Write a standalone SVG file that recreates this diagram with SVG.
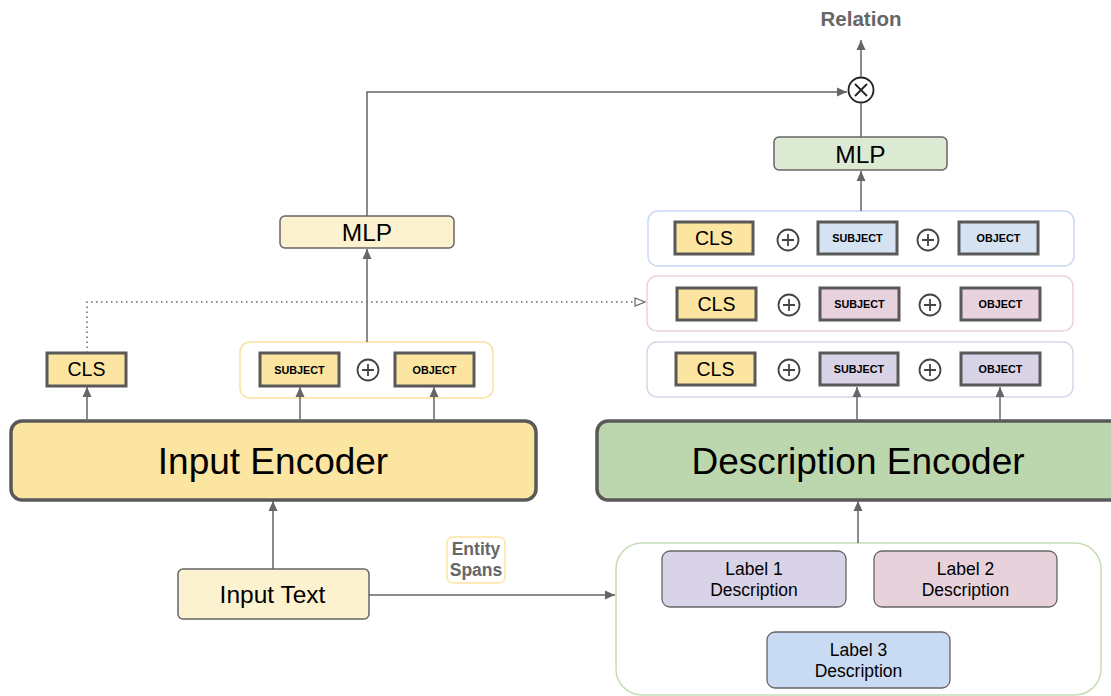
<svg xmlns="http://www.w3.org/2000/svg" width="1111" height="696" viewBox="0 0 1111 696">
<style>
text{font-family:"Liberation Sans",Arial,sans-serif;text-anchor:middle;fill:#000}
.tok{stroke:#595959;stroke-width:3}
.cls{fill:#fbe5a0}
.tt{font-size:19.5px}
.st{font-size:10.8px;font-weight:bold}
.enc{stroke:#595959;stroke-width:3.5}
.mlp{stroke:#666;stroke-width:1.5}
.plus{fill:#fff;stroke:#444;stroke-width:1.8}
.ln{stroke:#666;stroke-width:1.5;fill:none}
.lbl{stroke:#666;stroke-width:1.3}
.lt{font-size:17.5px}
</style>
<defs>
<marker id="ah" viewBox="0 0 10 10" refX="10" refY="5" markerWidth="10" markerHeight="10" markerUnits="userSpaceOnUse" orient="auto"><path d="M0,0.5 L10,5 L0,9.5 z" fill="#666"/></marker>
<marker id="oh" viewBox="0 0 12 10" refX="11" refY="5" markerWidth="12" markerHeight="10" markerUnits="userSpaceOnUse" orient="auto"><path d="M1,1 L11,5 L1,9 z" fill="#fff" stroke="#666" stroke-width="1.2"/></marker>
<g id="plusSym"><circle r="10.5" class="plus"/><path d="M-6,0 H6 M0,-6 V6" stroke="#444" stroke-width="1.8"/></g>
</defs>

<g id="relation"><text x="861" y="26" style="font-size:20.5px;font-weight:bold;fill:#666">Relation</text></g>
<g id="otimes"><circle cx="861" cy="90" r="12.5" fill="#fff" stroke="#222" stroke-width="1.8"/><path d="M855,84 L867,96 M867,84 L855,96" stroke="#222" stroke-width="1.8"/></g>

<g id="mlp-right"><rect x="774" y="137" width="173" height="33" rx="5" fill="#dcead4" class="mlp"/><text x="860.5" y="162.5" style="font-size:24.5px">MLP</text></g>
<g id="mlp-left"><rect x="280" y="216" width="174" height="32" rx="5" fill="#fdf2d0" class="mlp"/><text x="367" y="241" style="font-size:24.5px">MLP</text></g>

<g id="row1">
<rect x="648" y="211" width="426" height="55" rx="10" fill="#fff" stroke="#c9d8f5" stroke-width="1.5"/>
<rect x="675" y="222" width="78" height="32" class="tok cls"/><text x="714" y="245" class="tt">CLS</text>
<use href="#plusSym" x="788" y="240"/>
<rect x="818" y="222" width="79" height="32" class="tok" fill="#d5e2f1"/><text x="857.5" y="242" class="st">SUBJECT</text>
<use href="#plusSym" x="928" y="240"/>
<rect x="959" y="222" width="79" height="32" class="tok" fill="#d5e2f1"/><text x="998.5" y="242" class="st">OBJECT</text>
</g>
<g id="row2">
<rect x="647" y="276" width="426" height="55" rx="10" fill="#fff" stroke="#ecd3d8" stroke-width="1.5"/>
<rect x="677" y="288" width="79" height="32" class="tok cls"/><text x="716.5" y="311" class="tt">CLS</text>
<use href="#plusSym" x="789" y="305"/>
<rect x="820" y="288" width="79" height="32" class="tok" fill="#e7d2de"/><text x="859.5" y="308" class="st">SUBJECT</text>
<use href="#plusSym" x="930" y="305"/>
<rect x="961" y="288" width="79" height="32" class="tok" fill="#e7d2de"/><text x="1000.5" y="308" class="st">OBJECT</text>
</g>
<g id="row3">
<rect x="647" y="342" width="426" height="55" rx="10" fill="#fff" stroke="#d9d5ea" stroke-width="1.5"/>
<rect x="676" y="353" width="79" height="32" class="tok cls"/><text x="715.5" y="376" class="tt">CLS</text>
<use href="#plusSym" x="789" y="370"/>
<rect x="820" y="353" width="78" height="32" class="tok" fill="#d9d3e8"/><text x="859" y="373" class="st">SUBJECT</text>
<use href="#plusSym" x="930" y="370"/>
<rect x="961" y="353" width="79" height="32" class="tok" fill="#d9d3e8"/><text x="1000.5" y="373" class="st">OBJECT</text>
</g>

<g id="cls-left"><rect x="47" y="353" width="79" height="33" class="tok cls"/><text x="86.5" y="376" class="tt">CLS</text></g>
<g id="spans-left">
<rect x="240" y="342" width="253" height="56" rx="10" fill="#fff" stroke="#fbe1a0" stroke-width="1.5"/>
<rect x="260" y="353" width="79" height="33" class="tok cls"/><text x="299.5" y="373.5" class="st">SUBJECT</text>
<use href="#plusSym" x="368" y="370"/>
<rect x="395" y="353" width="79" height="33" class="tok cls"/><text x="434.5" y="373.5" class="st">OBJECT</text>
</g>

<g id="input-encoder"><rect x="11" y="421" width="525" height="79" rx="11" fill="#fbe5a0" class="enc"/><text x="273" y="474" style="font-size:37px">Input Encoder</text></g>
<g id="description-encoder"><rect x="597" y="421" width="530" height="79" rx="11" fill="#bcd7ae" class="enc"/><text x="858" y="474" style="font-size:37px">Description Encoder</text></g>

<g id="input-text"><rect x="178" y="569" width="191" height="50" rx="5" fill="#fdf2d0" class="mlp"/><text x="272.5" y="603" style="font-size:24.5px">Input Text</text></g>
<g id="entity-spans"><rect x="447" y="537" width="58" height="46" rx="6" fill="#fff" stroke="#fbe5a0" stroke-width="1.5"/><text x="476" y="555" style="font-size:17.5px;font-weight:bold;fill:#666">Entity</text><text x="476" y="576" style="font-size:17.5px;font-weight:bold;fill:#666">Spans</text></g>

<g id="labels-container"><rect x="616" y="543" width="485" height="152" rx="26" fill="#fff" stroke="#c6ddb8" stroke-width="1.5"/></g>
<g id="label1"><rect x="662" y="551" width="184" height="56" rx="8" fill="#d9d3e8" class="lbl"/><text x="754" y="575" class="lt">Label 1</text><text x="754" y="596" class="lt">Description</text></g>
<g id="label2"><rect x="874" y="551" width="183" height="56" rx="8" fill="#e7d2dc" class="lbl"/><text x="965.5" y="575" class="lt">Label 2</text><text x="965.5" y="596" class="lt">Description</text></g>
<g id="label3"><rect x="767" y="632" width="183" height="56" rx="8" fill="#c9daf3" class="lbl"/><text x="858.5" y="656" class="lt">Label 3</text><text x="858.5" y="677" class="lt">Description</text></g>

<g id="connectors">
<line class="ln" x1="87" y1="421" x2="87" y2="387" marker-end="url(#ah)"/>
<line class="ln" x1="300" y1="421" x2="300" y2="387" marker-end="url(#ah)"/>
<line class="ln" x1="434" y1="421" x2="434" y2="387" marker-end="url(#ah)"/>
<polyline class="ln" points="87,353 87,302 645,302" stroke-dasharray="1.5,3.5" marker-end="url(#oh)"/>
<line class="ln" x1="367" y1="342" x2="367" y2="249" marker-end="url(#ah)"/>
<polyline class="ln" points="367,216 367,92 847,92" marker-end="url(#ah)"/>
<line class="ln" x1="861" y1="137" x2="861" y2="103"/>
<line class="ln" x1="861" y1="77" x2="861" y2="40" marker-end="url(#ah)"/>
<line class="ln" x1="861" y1="211" x2="861" y2="171" marker-end="url(#ah)"/>
<line class="ln" x1="857" y1="421" x2="857" y2="387" marker-end="url(#ah)"/>
<line class="ln" x1="1000" y1="421" x2="1000" y2="387" marker-end="url(#ah)"/>
<line class="ln" x1="858" y1="543" x2="858" y2="501" marker-end="url(#ah)"/>
<line class="ln" x1="273" y1="569" x2="273" y2="501" marker-end="url(#ah)"/>
<line class="ln" x1="369" y1="595" x2="615" y2="595" marker-end="url(#ah)"/>
</g>
</svg>
